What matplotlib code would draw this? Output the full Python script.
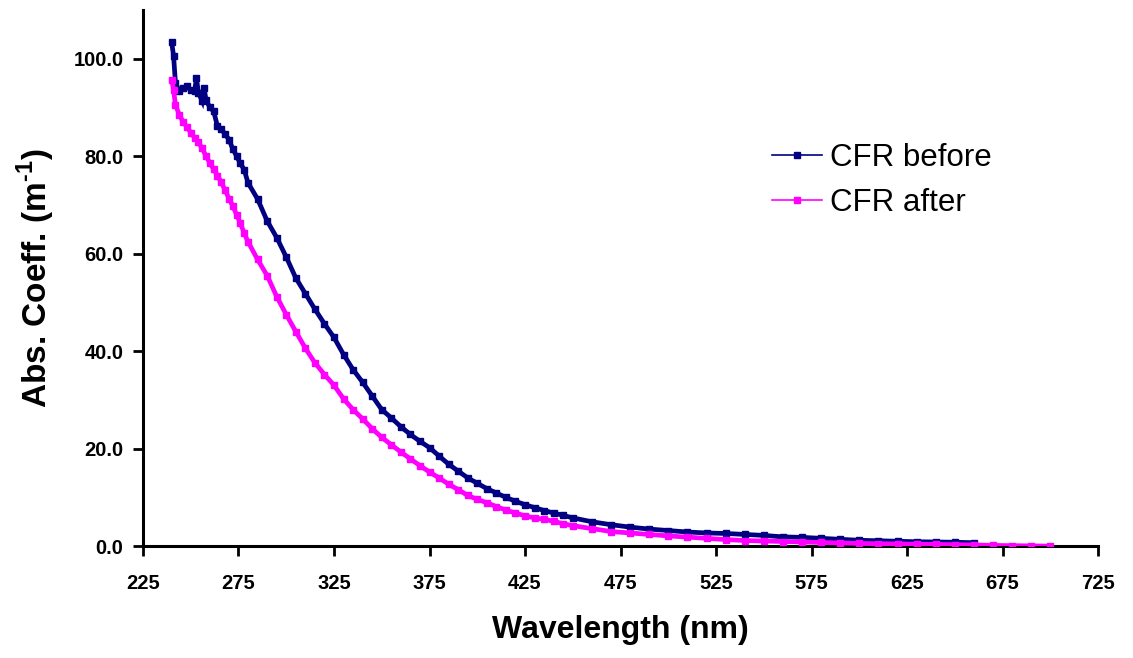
import matplotlib
matplotlib.use("Agg")
import matplotlib.pyplot as plt
from matplotlib.lines import Line2D

plt.rcParams['font.family'] = ['Liberation Sans', 'DejaVu Sans']
plt.rcParams['mathtext.fontset'] = 'custom'
plt.rcParams['mathtext.rm'] = 'Liberation Sans'
plt.rcParams['mathtext.bf'] = 'Liberation Sans:bold'

# wavelength (nm) and absorption coefficient (1/m)
wl_before = [240, 241, 242, 244, 246, 248, 250, 252, 253, 254, 256, 257, 258, 260,
             262, 264, 266, 268, 270, 272, 274, 276, 278, 280,
             285, 290, 295, 300, 305, 310, 315, 320, 325, 330, 335, 340, 345, 350,
             355, 360, 365, 370, 375, 380, 385, 390, 395, 400, 405, 410, 415, 420,
             425, 430, 435, 440, 445, 450, 460, 470, 480, 490, 500, 510, 520, 530,
             540, 550, 560, 570, 580, 590, 600, 610, 620, 630, 640, 650, 660]
abs_before = [103.4, 100.6, 95.0, 93.3, 94.0, 94.3, 93.5, 93.3, 96.0, 93.0, 91.3, 94.0, 91.5, 90.0,
              89.2, 86.1, 85.5, 84.5, 83.4, 81.5, 80.0, 78.5, 77.2, 74.5,
              71.2, 66.7, 63.3, 59.3, 55.0, 51.8, 48.6, 45.6, 42.8, 39.3, 36.2, 33.6, 30.8, 28.0,
              26.3, 24.5, 22.9, 21.5, 20.2, 18.5, 16.8, 15.4, 14.0, 12.9, 11.8, 10.9, 10.0, 9.2,
              8.5, 7.9, 7.3, 6.8, 6.3, 5.8, 5.0, 4.4, 3.9, 3.5, 3.2, 2.9, 2.7, 2.6,
              2.4, 2.2, 1.9, 1.8, 1.6, 1.4, 1.2, 1.1, 1.0, 0.9, 0.85, 0.8, 0.7]

wl_after = [240, 241, 242, 244, 246, 248, 250, 252, 254, 256, 258, 260,
            262, 264, 266, 268, 270, 272, 274, 276, 278, 280,
            285, 290, 295, 300, 305, 310, 315, 320, 325, 330, 335, 340, 345, 350,
            355, 360, 365, 370, 375, 380, 385, 390, 395, 400, 405, 410, 415, 420,
            425, 430, 435, 440, 445, 450, 460, 470, 480, 490, 500, 510, 520, 530,
            540, 550, 560, 570, 580, 590, 600, 610, 620, 630, 640, 650, 660, 670,
            680, 690, 700]
abs_after = [95.7, 93.6, 90.5, 88.5, 87.0, 86.0, 84.8, 83.8, 82.8, 81.6, 80.0, 78.6,
             77.3, 76.0, 74.6, 73.0, 71.3, 69.8, 68.0, 66.2, 64.2, 62.4,
             58.8, 55.5, 51.2, 47.5, 44.0, 40.6, 37.6, 35.2, 33.0, 30.2, 28.0, 26.1, 24.1, 22.3,
             20.8, 19.3, 17.9, 16.5, 15.2, 14.0, 12.7, 11.6, 10.4, 9.6, 8.9, 8.1, 7.4, 6.8,
             6.2, 5.8, 5.5, 5.1, 4.6, 4.2, 3.6, 3.0, 2.7, 2.4, 2.1, 1.85, 1.6, 1.35,
             1.15, 1.05, 0.95, 0.85, 0.75, 0.65, 0.55, 0.5, 0.45, 0.4, 0.35, 0.3, 0.25, 0.15,
             0.1, 0.05, 0.0]

x_ticks = list(range(225, 726, 50))
y_ticks = [0, 20, 40, 60, 80, 100]

navy = '#000080'
magenta = '#ff00ff'

fig = plt.figure(figsize=(11.33, 6.58), dpi=100)
ax = fig.add_axes([0.1262, 0.170, 0.843, 0.815])

ax.plot(wl_before, abs_before, color=navy, lw=3.4, marker='s', ms=3.8,
        solid_joinstyle='miter', zorder=3)
ax.plot(wl_after, abs_after, color=magenta, lw=3.4, marker='s', ms=3.8,
        solid_joinstyle='miter', zorder=4)

ax.set_xlim(225, 725)
ax.set_ylim(0, 110)
ax.set_xticks(x_ticks)
ax.set_yticks(y_ticks)
ax.set_yticklabels([f'{v:.1f}' for v in y_ticks])

for side in ['top', 'right']:
    ax.spines[side].set_visible(False)
for side in ['left', 'bottom']:
    ax.spines[side].set_linewidth(2.2)
ax.tick_params(direction='out', length=7, width=2, labelsize=14.5)
ax.tick_params(axis='x', pad=13)
ax.tick_params(axis='y', pad=7)
for lab in ax.get_xticklabels() + ax.get_yticklabels():
    lab.set_fontweight('bold')

ax.set_xlabel('Wavelength (nm)', fontsize=23, fontweight='bold', labelpad=16)
ax.set_ylabel('Abs. Coeff. (m$^{\\mathbf{\u2010 1}}$)', fontsize=24, fontweight='bold', labelpad=12)

handles = [Line2D([], [], color=navy, lw=1.2, marker='s', ms=3.8),
           Line2D([], [], color=magenta, lw=1.2, marker='s', ms=3.8)]
ax.legend(handles, ['CFR before', 'CFR after'], loc='center left',
          bbox_to_anchor=(0.629, 0.682), frameon=False, fontsize=22.5,
          handlelength=1.6, handletextpad=0.25, labelspacing=0.5)

fig.savefig('out.png', dpi=100)
